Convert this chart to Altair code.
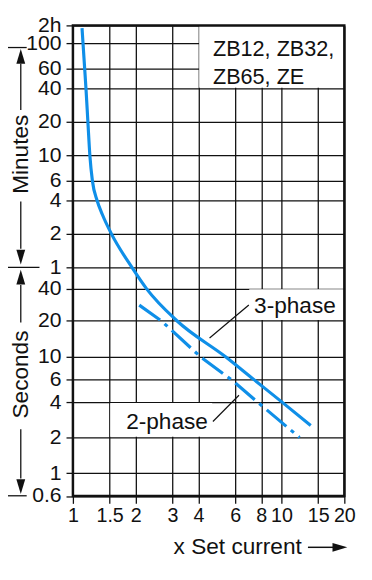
import altair as alt
import pandas as pd

# ---------------- data ----------------
cur_3ph = [1.106, 1.118, 1.139, 1.155, 1.18, 1.206, 1.24, 1.307, 1.384, 1.53,
           1.915, 2.252, 3.15, 5.41, 7.38, 10.09, 13.8]
sec_3ph = [7000, 6000, 3600, 2400, 1200, 600, 360, 240, 180, 120,
           60, 40, 20, 10, 6, 4, 2.53]

cur_2ph = [2.08, 2.65, 4.1, 5.75, 7.7, 12.2]
sec_2ph = [28, 20, 10, 6, 4, 2.0]

x_ticks = [1, 1.5, 2, 3, 4, 6, 8, 10, 15, 20]
y_ticks = [0.6, 1, 2, 4, 6, 10, 20, 40, 60, 120, 240, 360, 600, 1200, 2400, 3600, 6000, 7200]
y_labels = ["0.6", "1", "2", "4", "6", "10", "20", "40",
            "1", "2", "4", "6", "10", "20", "40", "60", "100", "2h"]

series_note = ["ZB12, ZB32,", "ZB65, ZE"]

# ---------------- layout / style ----------------
W, H = 276, 479
# the printed time axis is a hand-drawn (irregular) log grid: piecewise log scale
y_range = [478.6, 455.3, 419, 383.3, 360.2, 337.2, 300.3, 267.6, 245.8,
           212, 178.3, 158, 132.3, 98.3, 64, 44.3, 18, 0]
FONT = "Liberation Sans, Arial, sans-serif"
INK = "#111111"
BLUE = "#0f8fe8"

xscale = alt.Scale(type="log", domain=[1, 20], nice=False)
yscale = alt.Scale(type="log", domain=y_ticks, range=y_range, nice=False, zero=False)

label_expr = "''"
for v, l in reversed(list(zip(y_ticks, y_labels))):
    label_expr = f"datum.value == {v} ? '{l}' : ({label_expr})"

common_axis = dict(grid=True, gridColor=INK, gridWidth=1.3, gridOpacity=1, domain=False,
                   ticks=True, tickColor=INK, tickWidth=1.3, tickSize=7,
                   labelFont=FONT, labelColor=INK,
                   labelFlush=False, labelOverlap=False, labelBound=False, title=None)
xaxis = alt.Axis(values=x_ticks, labelExpr="'' + datum.value", labelPadding=2,
                 labelFontSize=20, **common_axis)
yaxis = alt.Axis(values=y_ticks, labelExpr=label_expr, labelPadding=5,
                 labelFontSize=21.5, **common_axis)


def X(f):
    return alt.X(f, type="quantitative", scale=xscale, axis=xaxis)


def Y(f):
    return alt.Y(f, type="quantitative", scale=yscale, axis=yaxis)


one = pd.DataFrame({"a": [0]})

# white label boxes (inset slightly so bordering grid lines stay visible)
boxes = pd.DataFrame({
    "x": [4.03, 7.0, 1.511],
    "x2": [20, 20, 4.65],
    "y": [2435, 20.3, 2.03],
    "y2": [7200, 39.4, 3.94],
})
box_layer = alt.Chart(boxes).mark_rect(color="white").encode(
    x=X("x"), x2="x2", y=Y("y"), y2="y2")

df3 = pd.DataFrame({"current": cur_3ph, "seconds": sec_3ph})
df2 = pd.DataFrame({"current": cur_2ph, "seconds": sec_2ph})

line3 = alt.Chart(df3).mark_line(color=BLUE, strokeWidth=3.2, interpolate="monotone").encode(
    x=X("current"), y=Y("seconds"))
line2 = alt.Chart(df2).mark_line(color=BLUE, strokeWidth=3.2, strokeDash=[26, 6, 4, 6],
                                 strokeCap="butt").encode(
    x=X("current"), y=Y("seconds"))

leaders = pd.DataFrame({"x": [4.52, 4.69], "x2": [6.97, 6.25],
                        "y": [14.4, 2.74], "y2": [28.1, 4.54]})
leader_layer = alt.Chart(leaders).mark_rule(color=INK, strokeWidth=1.2).encode(
    x=X("x"), x2="x2", y=Y("y"), y2="y2")

note_df = pd.DataFrame({"x": [4.69, 4.69], "y": [4660, 2645], "t": series_note})
note_layer = alt.Chart(note_df).mark_text(align="left", baseline="alphabetic", font=FONT,
                                          fontSize=22, color=INK).encode(
    x=X("x"), y=Y("y"), text="t:N")

ph3 = alt.Chart(pd.DataFrame({"x": [18.2], "y": [23.5], "t": ["3-phase"]})).mark_text(
    align="right", baseline="alphabetic", font=FONT, fontSize=23, color=INK).encode(
    x=X("x"), y=Y("y"), text="t:N")
ph2 = alt.Chart(pd.DataFrame({"x": [1.80], "y": [2.36], "t": ["2-phase"]})).mark_text(
    align="left", baseline="alphabetic", font=FONT, fontSize=23, color=INK).encode(
    x=X("x"), y=Y("y"), text="t:N")

frame = alt.Chart(pd.DataFrame({"x": [1], "x2": [20], "y": [0.6], "y2": [7200]})).mark_rect(
    filled=False, stroke=INK, strokeWidth=2.5).encode(x=X("x"), x2="x2", y=Y("y"), y2="y2")


# ---------------- decorations outside the plot ----------------
def hrule(x1, x2, y, w=1.3):
    return alt.Chart(one).mark_rule(color=INK, strokeWidth=w).encode(
        x=alt.value(x1), x2=alt.value(x2), y=alt.value(y))


def vrule(x, y1, y2, w=1.3):
    return alt.Chart(one).mark_rule(color=INK, strokeWidth=w).encode(
        x=alt.value(x), y=alt.value(y1), y2=alt.value(y2))


UP = "M0,-1L0.6,1L-0.6,1Z"
DOWN = "M0,1L0.6,-1L-0.6,-1Z"
RIGHT = "M1,0L-1,0.6L-1,-0.6Z"


def head(shape, x, y, size=225):
    return alt.Chart(one).mark_point(shape=shape, filled=True, size=size, color=INK,
                                     opacity=1, strokeWidth=0).encode(
        x=alt.value(x), y=alt.value(y))


def vtext(t, x, y):
    return alt.Chart(one).mark_text(text=t, angle=270, align="center", baseline="alphabetic",
                                    font=FONT, fontSize=23, color=INK).encode(
        x=alt.value(x), y=alt.value(y))


AX = -53
deco = [
    hrule(-70, -47, 22.5),
    head(UP, AX, 31.5),
    vrule(AX, 39, 86),
    vtext("Minutes", -46, 131),
    vrule(AX, 179, 227),
    head(DOWN, AX, 235.5),
    hrule(-70, -34, 246),
    head(UP, AX, 256),
    vrule(AX, 264, 302),
    vtext("Seconds", -45.5, 355),
    vrule(AX, 410.7, 460.7),
    head(DOWN, AX, 469),
    hrule(-70, -47, 478.3),
    alt.Chart(one).mark_text(text="x Set current", align="right", baseline="alphabetic",
                             font=FONT, fontSize=23, color=INK).encode(
        x=alt.value(232.7), y=alt.value(537.3)),
    hrule(239, 265, 530.7, 1.5),
    head(RIGHT, 271.5, 530.7),
]

chart = alt.layer(box_layer, line3, line2, leader_layer, note_layer, ph3, ph2, frame, *deco).properties(
    width=W, height=H,
    autosize=alt.AutoSizeParams(type="none"),
    padding={"left": 66, "top": 13, "right": 20, "bottom": 66},
).configure_view(strokeWidth=0)

chart.save("out.html", embed_options={"renderer": "svg", "actions": False})
